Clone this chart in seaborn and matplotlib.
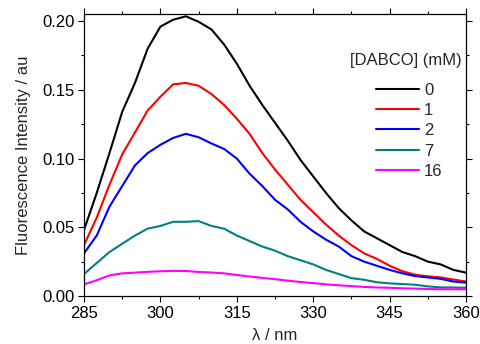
import numpy as np
import pandas as pd
import matplotlib
matplotlib.use("Agg")
import matplotlib.pyplot as plt
import seaborn as sns
from matplotlib.ticker import MultipleLocator, FormatStrFormatter

# wavelength grid (nm) and spectra
wavelength = [285, 287.5, 290, 292.5, 295, 297.5, 300, 302.5, 305, 307.5,
              310, 312.5, 315, 317.5, 320, 322.5, 325, 327.5, 330, 332.5,
              335, 337.5, 340, 342.5, 345, 347.5, 350, 352.5, 355, 357.5, 360]

dabco_0 = [0.048, 0.075, 0.104, 0.134, 0.155, 0.180, 0.196, 0.201, 0.2035, 0.1995,
           0.194, 0.183, 0.169, 0.153, 0.139, 0.126, 0.113, 0.099, 0.087, 0.075,
           0.064, 0.055, 0.047, 0.042, 0.037, 0.032, 0.029, 0.025, 0.023, 0.019, 0.017]
dabco_1 = [0.037, 0.057, 0.081, 0.103, 0.119, 0.135, 0.145, 0.154, 0.155, 0.153,
           0.147, 0.139, 0.129, 0.118, 0.104, 0.092, 0.081, 0.070, 0.061, 0.052,
           0.044, 0.037, 0.031, 0.027, 0.022, 0.018, 0.0155, 0.0143, 0.0135, 0.012, 0.0105]
dabco_2 = [0.031, 0.044, 0.065, 0.080, 0.095, 0.104, 0.110, 0.115, 0.118, 0.1155,
           0.111, 0.107, 0.100, 0.089, 0.080, 0.070, 0.063, 0.054, 0.047, 0.041,
           0.036, 0.029, 0.025, 0.022, 0.019, 0.0165, 0.0145, 0.0135, 0.0125, 0.0105, 0.0097]
dabco_7 = [0.016, 0.024, 0.032, 0.038, 0.044, 0.049, 0.051, 0.054, 0.054, 0.0545,
           0.051, 0.049, 0.044, 0.040, 0.036, 0.033, 0.029, 0.026, 0.023, 0.019,
           0.016, 0.013, 0.0118, 0.010, 0.0092, 0.0087, 0.0082, 0.007, 0.0063, 0.0062, 0.006]
dabco_16 = [0.0085, 0.0115, 0.015, 0.0165, 0.017, 0.0176, 0.018, 0.0183, 0.0182, 0.0175,
            0.0171, 0.0165, 0.0153, 0.0142, 0.0132, 0.0122, 0.0112, 0.0102, 0.0094, 0.0085,
            0.0078, 0.0072, 0.0066, 0.0062, 0.006, 0.0056, 0.0054, 0.0051, 0.0049, 0.0049, 0.0049]

conc_labels = ["0", "1", "2", "7", "16"]
colors = ["#000000", "#ff0000", "#0000ff", "#008080", "#ff00ff"]

series = [dabco_0, dabco_1, dabco_2, dabco_7, dabco_16]
df = pd.concat([pd.DataFrame({"wl": wavelength, "I": s, "conc": c})
                for s, c in zip(series, conc_labels)], ignore_index=True)

sns.set_style("ticks")
plt.rcParams["font.family"] = ["Liberation Sans", "DejaVu Sans"]

fig = plt.figure(figsize=(4.8, 3.44), dpi=100)
ax = fig.add_axes([0.175, 0.1395, 0.796, 0.8195])

sns.lineplot(data=df, x="wl", y="I", hue="conc", hue_order=conc_labels,
             palette=colors, linewidth=1.5, ax=ax)

ax.set_xlim(285, 360)
ax.set_ylim(0, 0.2051)
ax.xaxis.set_major_locator(MultipleLocator(15))
ax.xaxis.set_minor_locator(MultipleLocator(7.5))
ax.yaxis.set_major_locator(MultipleLocator(0.05))
ax.yaxis.set_minor_locator(MultipleLocator(0.025))
ax.yaxis.set_major_formatter(FormatStrFormatter("%.2f"))
# ticks point outward on all four sides, labels only left/bottom
ax.tick_params(which="both", direction="out", top=True, right=True,
               labelsize=12, width=0.8, colors="black")
ax.tick_params(which="major", length=4, pad=3)
ax.tick_params(which="minor", length=2.5)
for sp in ax.spines.values():
    sp.set_linewidth(0.9)
    sp.set_color("black")

ax.set_xlabel("λ / nm", fontsize=12, labelpad=5)
ax.set_ylabel("Fluorescence Intensity / au", fontsize=12, labelpad=8)

# legend title drawn separately so it can sit apart from the entries
ax.text(0.988, 0.835, "[DABCO] (mM)", transform=ax.transAxes,
        ha="right", va="center", fontsize=12)
ax.legend(frameon=False, fontsize=12, loc="upper left",
          bbox_to_anchor=(0.764, 0.757), borderpad=0, borderaxespad=0,
          handlelength=2.6, handletextpad=0.3, labelspacing=0.32)

fig.savefig("out.png", dpi=100)
